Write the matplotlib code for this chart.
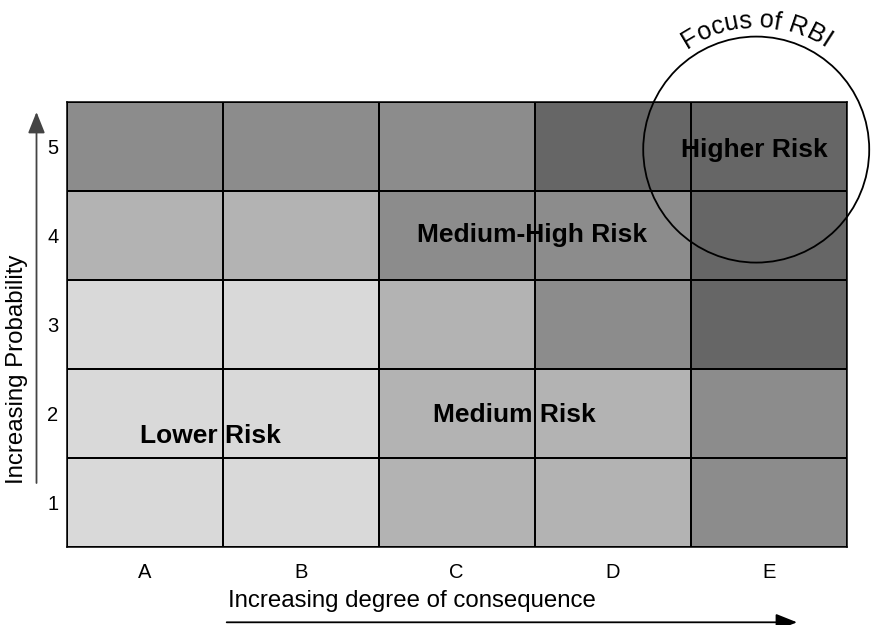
import numpy as np
import matplotlib
matplotlib.use("Agg")
import matplotlib.pyplot as plt
from matplotlib.colors import ListedColormap
from matplotlib.patches import Circle
from matplotlib.transforms import IdentityTransform
from matplotlib.font_manager import FontProperties

plt.rcParams['font.family'] = ['Liberation Sans', 'DejaVu Sans']

# ---- data ----
consequence = ["A", "B", "C", "D", "E"]
probability = ["1", "2", "3", "4", "5"]
# risk level per cell, rows = probability 1..5 (bottom to top), cols = A..E
risk_row1 = [1, 1, 2, 2, 3]
risk_row2 = [1, 1, 2, 2, 3]
risk_row3 = [1, 1, 2, 3, 4]
risk_row4 = [2, 2, 3, 3, 4]
risk_row5 = [3, 3, 3, 4, 4]
level_colors = ["#d9d9d9", "#b3b3b3", "#8c8c8c", "#666666"]
region_labels = ["Lower Risk", "Medium Risk", "Medium-High Risk", "Higher Risk"]
region_label_x = [1.42, 3.37, 3.48, 4.91]
region_label_y = [1.66, 1.90, 3.92, 4.88]
x_title = "Increasing degree of consequence"
y_title = "Increasing Probability"
focus_text = "Focus of RBI"

W, H = 872, 625
fig = plt.figure(figsize=(W / 100, H / 100), dpi=100)
ax = fig.add_axes([66.7 / W, 1 - 546.7 / H, 780.0 / W, 445.2 / H])

Z = np.array([risk_row1, risk_row2, risk_row3, risk_row4, risk_row5])
xe = np.arange(len(consequence) + 1) + 0.5
ye = np.arange(len(probability) + 1) + 0.5
cmap = ListedColormap(level_colors)
ax.pcolormesh(xe, ye, Z, cmap=cmap, vmin=0.5, vmax=4.5,
              edgecolors="black", linewidth=1.1)
ax.set_xlim(0.5, 5.5)
ax.set_ylim(0.5, 5.5)
ax.set_xticks(np.arange(1, 6))
ax.set_xticklabels(consequence)
ax.set_yticks(np.arange(1, 6))
ax.set_yticklabels(probability)
ax.tick_params(axis="x", length=0, pad=12, labelsize=14.5)
ax.tick_params(axis="y", length=0, pad=6, labelsize=14.5)
for s in ax.spines.values():
    s.set_linewidth(1.1)
    s.set_color("black")

for lab, lx, ly in zip(region_labels, region_label_x, region_label_y):
    ax.text(lx, ly, lab, ha="center", va="baseline", fontsize=19,
            fontweight="bold", color="black", zorder=5)

# axis titles
fig.text(228 / W, 1 - 606.7 / H, x_title, ha="left", va="baseline", fontsize=17.3)
fig.text(17 / W, 1 - 369 / H, y_title, ha="center", va="center",
         rotation=90, fontsize=17.3)

# arrows
fig.add_artist(matplotlib.patches.FancyArrowPatch(
    (226.7, H - 622.3), (797, H - 622.3), transform=IdentityTransform(),
    arrowstyle="-|>,head_length=10,head_width=4", mutation_scale=1.3,
    lw=1.3, color="black", shrinkA=0, shrinkB=0))
fig.add_artist(matplotlib.patches.FancyArrowPatch(
    (36.5, H - 483), (36.5, H - 112), transform=IdentityTransform(),
    arrowstyle="-|>,head_length=10,head_width=4", mutation_scale=1.3,
    lw=1.3, color="#444444", shrinkA=0, shrinkB=0))

# focus circle
fig.canvas.draw()
cpx = ax.transData.transform((4.92, 4.96))
R = 113
fig.add_artist(Circle(cpx, R, transform=IdentityTransform(), fill=False,
                      lw=1.3, color="black", zorder=6))

# curved text along the circle
renderer = fig.canvas.get_renderer()
fp = FontProperties(family="Liberation Sans", size=18.3)
def tw(s):
    if not s:
        return 0.0
    w, h, d = renderer.get_text_width_height_descent(s, fp, ismath=False)
    return w
Rt = R + 9
total = tw(focus_text)
for i, ch in enumerate(focus_text):
    s_mid = tw(focus_text[:i]) + tw(ch) / 2 - total / 2
    phi = s_mid / Rt
    px = cpx[0] + Rt * np.sin(phi)
    py = cpx[1] + Rt * np.cos(phi)
    fig.text(px, py, ch, transform=IdentityTransform(), fontproperties=fp,
             ha="center", va="baseline", rotation=-np.degrees(phi),
             rotation_mode="anchor")

fig.savefig("out.png", dpi=100)
